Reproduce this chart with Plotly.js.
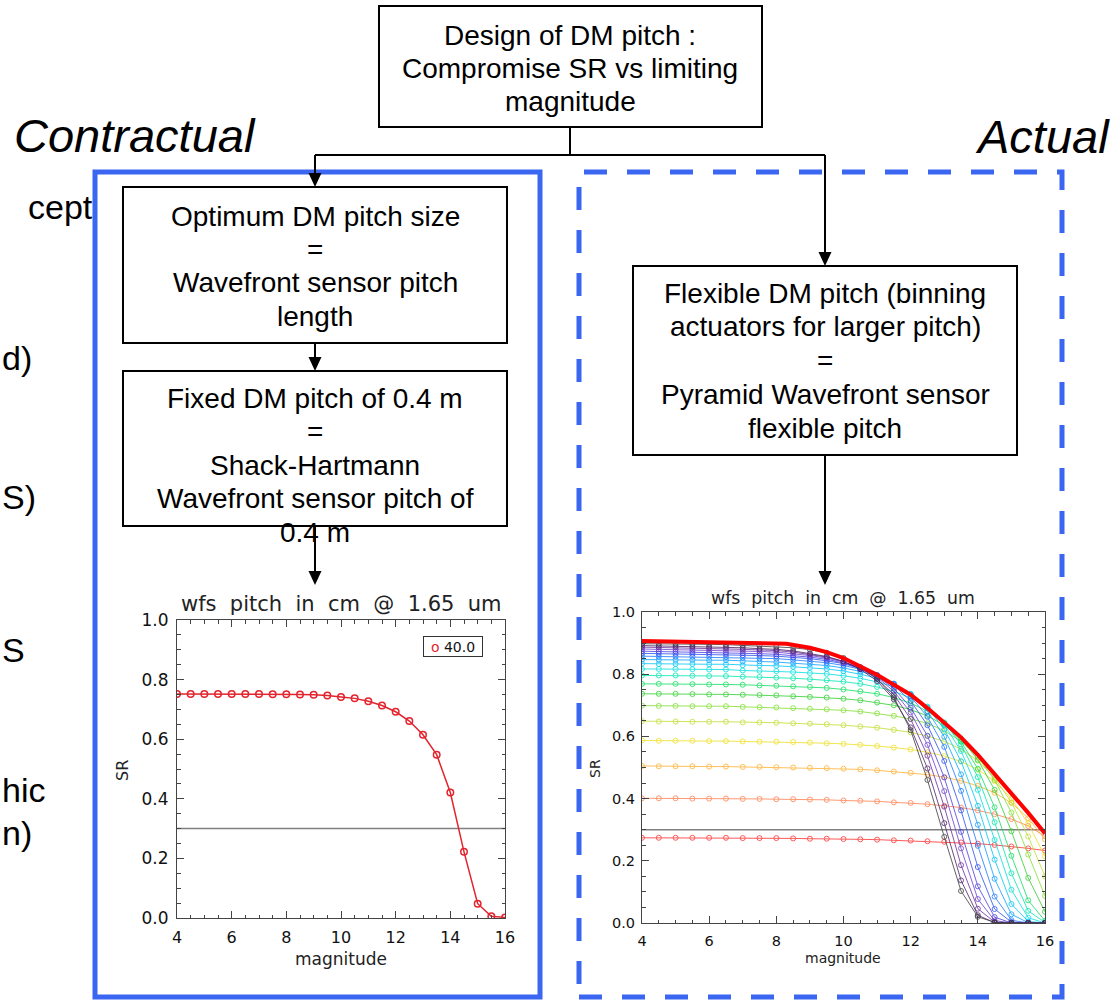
<!DOCTYPE html>
<html><head><meta charset="utf-8">
<script src="https://cdn.plot.ly/plotly-3.0.1.min.js"></script>
<style>html,body{margin:0;padding:0;background:#fff}#chart{width:1116px;height:1002px}</style>
</head><body><div id="chart"></div>
<script>
// ---------------- DATA ----------------
const magnitude = [4,4.5,5,5.5,6,6.5,7,7.5,8,8.5,9,9.5,10,10.5,11,11.5,12,12.5,13,13.5,14,14.5,15,15.5,16];
const srLimit = 0.3;
// Contractual: fixed 40 cm pitch
const legendPitch = '40.0';
const srPitch40 = [0.752,0.752,0.752,0.752,0.752,0.752,0.752,0.751,0.751,0.750,0.749,0.747,0.742,0.737,0.727,0.713,0.692,0.661,0.615,0.548,0.421,0.222,0.048,0.006,0.002];
// Actual: flexible pitch family (top plateau to bottom plateau)
const srCurve01 = [0.898,0.898,0.898,0.897,0.896,0.895,0.893,0.891,0.889,0.885,0.879,0.869,0.852,0.823,0.785,0.726,0.620,0.460,0.277,0.103,0.020,0.002,0,0,0];
const srCurve02 = [0.892,0.891,0.891,0.890,0.888,0.888,0.885,0.882,0.880,0.875,0.867,0.857,0.841,0.816,0.778,0.719,0.629,0.497,0.321,0.137,0.025,0.001,0,0,0];
const srCurve03 = [0.887,0.886,0.886,0.885,0.884,0.883,0.880,0.878,0.876,0.871,0.864,0.855,0.841,0.819,0.785,0.734,0.656,0.538,0.374,0.186,0.046,0.003,0,0,0];
const srCurve04 = [0.881,0.880,0.880,0.879,0.878,0.877,0.875,0.873,0.871,0.866,0.860,0.852,0.839,0.820,0.790,0.745,0.677,0.573,0.424,0.240,0.077,0.008,0,0,0];
const srCurve05 = [0.874,0.873,0.873,0.872,0.871,0.870,0.868,0.866,0.864,0.860,0.855,0.848,0.836,0.821,0.793,0.754,0.693,0.602,0.468,0.293,0.118,0.019,0,0,0];
const srCurve06 = [0.867,0.866,0.866,0.866,0.865,0.864,0.861,0.860,0.858,0.854,0.850,0.843,0.834,0.818,0.797,0.764,0.714,0.636,0.521,0.362,0.180,0.045,0.003,0,0];
const srCurve07 = [0.858,0.857,0.857,0.857,0.856,0.855,0.853,0.851,0.850,0.846,0.842,0.837,0.828,0.816,0.797,0.769,0.728,0.663,0.566,0.425,0.248,0.085,0.009,0,0];
const srCurve08 = [0.847,0.846,0.846,0.846,0.845,0.845,0.842,0.841,0.839,0.835,0.833,0.828,0.820,0.809,0.794,0.770,0.735,0.681,0.599,0.478,0.316,0.142,0.028,0.001,0];
const srCurve09 = [0.834,0.833,0.833,0.833,0.832,0.832,0.829,0.828,0.827,0.824,0.821,0.817,0.810,0.800,0.787,0.767,0.737,0.692,0.623,0.520,0.377,0.204,0.061,0.005,0];
const srCurve10 = [0.817,0.817,0.817,0.816,0.815,0.815,0.812,0.811,0.810,0.807,0.804,0.801,0.795,0.787,0.775,0.760,0.734,0.696,0.638,0.553,0.428,0.267,0.107,0.017,0];
const srCurve11 = [0.796,0.796,0.796,0.795,0.794,0.794,0.792,0.791,0.789,0.787,0.784,0.781,0.776,0.769,0.759,0.745,0.724,0.693,0.645,0.574,0.469,0.324,0.160,0.039,0.002];
const srCurve12 = [0.769,0.769,0.769,0.768,0.767,0.767,0.766,0.764,0.763,0.761,0.759,0.756,0.751,0.745,0.737,0.725,0.707,0.681,0.642,0.583,0.496,0.372,0.216,0.073,0.007];
const srCurve13 = [0.737,0.737,0.737,0.736,0.735,0.735,0.734,0.733,0.732,0.729,0.727,0.725,0.721,0.716,0.709,0.700,0.686,0.666,0.636,0.592,0.525,0.428,0.295,0.145,0.036];
const srCurve14 = [0.699,0.698,0.698,0.697,0.697,0.697,0.695,0.694,0.693,0.691,0.689,0.687,0.684,0.680,0.674,0.666,0.656,0.642,0.618,0.584,0.534,0.460,0.355,0.220,0.087];
const srCurve15 = [0.649,0.648,0.648,0.647,0.647,0.647,0.645,0.645,0.644,0.642,0.641,0.639,0.636,0.632,0.628,0.621,0.613,0.601,0.584,0.559,0.522,0.467,0.388,0.278,0.150];
const srCurve16 = [0.587,0.586,0.586,0.586,0.585,0.585,0.584,0.583,0.583,0.582,0.580,0.578,0.576,0.573,0.569,0.564,0.558,0.549,0.537,0.519,0.493,0.456,0.400,0.320,0.214];
const srCurve17 = [0.505,0.504,0.504,0.504,0.503,0.503,0.502,0.502,0.501,0.500,0.499,0.498,0.496,0.494,0.491,0.487,0.483,0.477,0.469,0.457,0.441,0.419,0.386,0.337,0.269];
const srCurve18 = [0.401,0.401,0.401,0.400,0.400,0.400,0.399,0.399,0.398,0.398,0.397,0.396,0.394,0.393,0.391,0.388,0.386,0.382,0.377,0.371,0.362,0.350,0.334,0.312,0.279];
const srCurve19 = [0.274,0.274,0.274,0.274,0.274,0.274,0.273,0.273,0.273,0.272,0.271,0.271,0.270,0.269,0.268,0.266,0.265,0.263,0.261,0.259,0.255,0.251,0.246,0.240,0.233];
// best-of envelope
const envMagnitude = [4,5,6,7,8,8.3,9,9.5,10,10.5,11,11.5,12,12.5,13,13.5,14,14.5,15,15.5,16];
const envSR = [0.907,0.905,0.903,0.901,0.899,0.898,0.885,0.871,0.852,0.826,0.798,0.766,0.734,0.691,0.646,0.597,0.541,0.479,0.416,0.354,0.288];

// ---------------- STYLE ----------------
const curves = [srCurve01,srCurve02,srCurve03,srCurve04,srCurve05,srCurve06,srCurve07,srCurve08,srCurve09,srCurve10,
                srCurve11,srCurve12,srCurve13,srCurve14,srCurve15,srCurve16,srCurve17,srCurve18,srCurve19];
const curveColors = ['#3c3c3c','#4b1f66','#6a2c9a','#6d3fd0','#4a3de0','#2850f0','#1a78ff','#0aa0ff','#00c8f8','#00e0e0',
                     '#00e8b0','#10e060','#30d030','#80e030','#c0e030','#f0e020','#ffb030','#ff8050','#ff3030'];

const W = 1116, H = 1002;
const X = x => x / W, Y = y => 1 - y / H;
const BOXFONT = 'Liberation Sans, Arial, sans-serif';
const PLOTFONT = 'DejaVu Sans, sans-serif';
const blue = '#3b66f2';

const traces = [];
const xr = [magnitude[0], magnitude[magnitude.length-1]];
// left chart
traces.push({x: xr, y: [srLimit, srLimit], xaxis:'x', yaxis:'y', mode:'lines', line:{color:'#808080', width:1.5}, hoverinfo:'skip'});
traces.push({x: magnitude, y: srPitch40, xaxis:'x', yaxis:'y', mode:'lines+markers', name: legendPitch,
  line:{color:'#e3232d', width:1.5}, marker:{symbol:'circle-open', size:6.5, color:'#e3232d', line:{width:1.5}}});
// right chart
traces.push({x: xr, y: [srLimit, srLimit], xaxis:'x2', yaxis:'y2', mode:'lines', line:{color:'#808080', width:1.5}, hoverinfo:'skip'});
for (let k = curves.length - 1; k >= 0; k--) {
  traces.push({x: magnitude, y: curves[k], xaxis:'x2', yaxis:'y2', mode:'lines+markers', opacity:0.8,
    line:{color: curveColors[k], width:1}, marker:{symbol:'circle-open', size:5, color: curveColors[k], line:{width:1}}});
}
traces.push({x: envMagnitude, y: envSR, xaxis:'x2', yaxis:'y2', mode:'lines', line:{color:'#ff0000', width:4}});

function axis(extra) {
  return Object.assign({ticks:'inside', mirror:'allticks', showline:true, linecolor:'#444', linewidth:1, tickcolor:'#444',
    tickwidth:1, ticklen:7, showgrid:false, zeroline:false, fixedrange:true}, extra);
}
const xMinor = {dtick:0.5, tick0:4, ticklen:3.5, ticks:'inside', tickcolor:'#444', showgrid:false};
const yMinor = {dtick:0.05, tick0:0, ticklen:3.5, ticks:'inside', tickcolor:'#444', showgrid:false};

// ---------------- FLOWCHART ----------------
const shapes = [];
function rect(x0,y0,x1,y1,line){ shapes.push({type:'rect', xref:'paper', yref:'paper', x0:X(x0), x1:X(x1), y0:Y(y1), y1:Y(y0), line, fillcolor:'rgba(0,0,0,0)', layer:'above'}); }
function seg(x0,y0,x1,y1){ shapes.push({type:'line', xref:'paper', yref:'paper', x0:X(x0), x1:X(x1), y0:Y(y0), y1:Y(y1), line:{color:'#000', width:2}, layer:'above'}); }
function head(x,y){ shapes.push({type:'path', xref:'paper', yref:'paper', path:`M${X(x-6.5)},${Y(y-14)} L${X(x+6.5)},${Y(y-14)} L${X(x)},${Y(y)} Z`, fillcolor:'#000', line:{width:0}, layer:'above'}); }
function arrow(x,y0,y1){ seg(x,y0,x,y1-10); head(x,y1); }

rect(95,172,540,997,{color:blue, width:5});
rect(579,172,1062,997,{color:blue, width:5, dash:'23px,20px'});
rect(379,6,762,127,{color:'#000', width:2});
rect(123,187,507,343,{color:'#000', width:2});
rect(123,371,507,526,{color:'#000', width:2});
rect(633,266,1017,455,{color:'#000', width:2});
seg(570,127,570,155);
seg(315,155,825,155);
arrow(315,155,187);
arrow(825,155,266);
arrow(315,343,371);
arrow(315,526,585);
arrow(825,455,585);

const ann = [];
function T(text,x,y,size,extra){ ann.push(Object.assign({xref:'paper', yref:'paper', x:X(x), y:Y(y), text, showarrow:false,
  xanchor:'center', yanchor:'middle', font:{family:BOXFONT, size, color:'#000'}}, extra||{})); }
function lines(arr, cx, y0, dy){ arr.forEach((s,i)=>T(s, cx, y0 + i*dy, 28)); }

lines(['Design of DM pitch :','Compromise SR vs limiting','magnitude'], 570, 35, 33);
lines(['Optimum DM pitch size','=','Wavefront sensor pitch','length'], 315, 216, 33.4);
lines(['Fixed DM pitch of 0.4 m','=','Shack-Hartmann','Wavefront sensor pitch of','0.4 m'], 315, 398, 33.6);
lines(['Flexible DM pitch (binning','actuators for larger pitch)','=','Pyramid Wavefront sensor','flexible pitch'], 825, 293, 33.8);

T('Contractual', 135, 135, 47, {font:{family:BOXFONT, size:47, color:'#000', style:'italic'}});
T('Actual', 1112, 137, 47, {xanchor:'right', font:{family:BOXFONT, size:47, color:'#000', style:'italic'}});

// clipped slide text on the left edge
[['cept',95,207],['d)',34,358],['S)',38,497],['S',27,650],['hic',47,790],['n)',34,833]].forEach(([s,x,y]) =>
  T(s, x, y, 34, {xanchor:'right'}));

// chart texts
const nb = '\u00a0\u00a0';
const chartTitle = ['wfs','pitch','in','cm','@','1.65','um'].join(nb);
T(chartTitle, 341, 604, 21, {font:{family:PLOTFONT, size:21, color:'#222'}});
T('magnitude', 341, 959, 17, {font:{family:PLOTFONT, size:17, color:'#222'}});
T('SR', 122, 771, 16, {textangle:-90, font:{family:PLOTFONT, size:16, color:'#222'}});
T('<span style="color:#e3232d">o</span> ' + legendPitch, 453, 646, 14, {width:56, height:17, bordercolor:'#333', borderwidth:1, borderpad:1, bgcolor:'#fff', font:{family:PLOTFONT, size:14, color:'#111'}});

T(chartTitle, 843, 598, 17.3, {font:{family:PLOTFONT, size:17.3, color:'#222'}});
T('magnitude', 843, 958, 14, {font:{family:PLOTFONT, size:14, color:'#222'}});
T('SR', 595, 769, 14, {textangle:-90, font:{family:PLOTFONT, size:14, color:'#222'}});

const layout = {
  width: W, height: H, margin:{l:0,r:0,t:0,b:0,pad:0}, paper_bgcolor:'#fff', plot_bgcolor:'#fff', showlegend:false,
  xaxis: axis({domain:[X(177),X(505)], anchor:'y', range:[4,16], tick0:4, dtick:2, minor:xMinor, ticklabelstandoff:5,
    tickfont:{family:PLOTFONT, size:16, color:'#111'}}),
  yaxis: axis({domain:[Y(918),Y(620)], anchor:'x', range:[0,1], tick0:0, dtick:0.2, tickformat:'.1f', minor:yMinor, ticklabelstandoff:4,
    tickfont:{family:PLOTFONT, size:17, color:'#111'}}),
  xaxis2: axis({domain:[X(642),X(1045)], anchor:'y2', range:[4,16], tick0:4, dtick:2, minor:xMinor, ticklabelstandoff:5,
    tickfont:{family:PLOTFONT, size:14.5, color:'#111'}}),
  yaxis2: axis({domain:[Y(923),Y(612)], anchor:'x2', range:[0,1], tick0:0, dtick:0.2, tickformat:'.1f', minor:yMinor, ticklabelstandoff:3,
    tickfont:{family:PLOTFONT, size:14.5, color:'#111'}}),
  shapes, annotations: ann
};
Plotly.newPlot('chart', traces, layout, {displayModeBar:false, staticPlot:true});
</script></body></html>
